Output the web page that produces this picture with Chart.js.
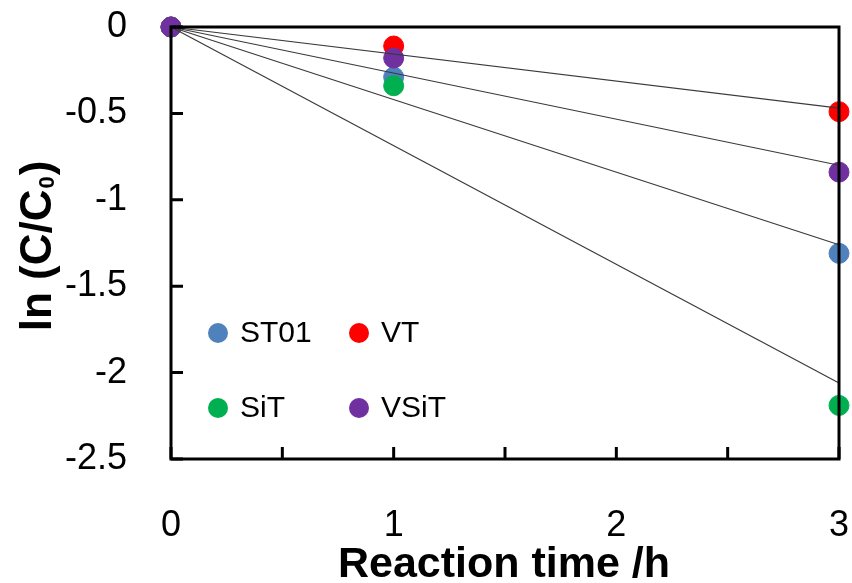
<!DOCTYPE html>
<html>
<head>
<meta charset="utf-8">
<script src="https://cdn.jsdelivr.net/npm/chart.js@4"></script>
<style>
  html, body { margin: 0; padding: 0; background: #fff; }
</style>
</head>
<body>
<canvas id="chart" width="852" height="583"></canvas>
<script>
// reaction times (h)
const times = [0, 1, 3];

const seriesNames = ['ST01', 'VT', 'SiT', 'VSiT'];
const seriesColors = ['#4F81BD', '#FF0000', '#00B050', '#7030A0'];

// ln(C/C0)
const st01 = [0, -0.29, -1.31];
const vt = [0, -0.11, -0.49];
const sit = [0, -0.34, -2.19];
const vsit = [0, -0.18, -0.84];

// trend lines (through origin), value at t = 3 h
const trendEnd = [-1.26, -0.47, -2.06, -0.80];

const yTicks = [0, -0.5, -1, -1.5, -2, -2.5];

const allSeries = [st01, vt, sit, vsit];
const fontFam = '"Liberation Sans", Arial, sans-serif';

const pointSets = allSeries.map((vals, i) => ({
    label: seriesNames[i],
    data: times.map((t, j) => ({ x: t, y: vals[j] })),
    backgroundColor: seriesColors[i],
    borderColor: seriesColors[i],
    pointRadius: 10,
    pointHoverRadius: 10,
    showLine: false,
    clip: false,
    order: 4 - i
}));

const trendSets = trendEnd.map((v, i) => ({
    label: seriesNames[i] + ' trend',
    type: 'line',
    data: [{ x: times[0], y: 0 }, { x: times[times.length - 1], y: v }],
    borderColor: '#3a3a3a',
    borderWidth: 1.2,
    pointRadius: 0,
    fill: false,
    clip: false,
    order: 0
}));

function noPad(scale) {
    scale.paddingTop = 0;
    scale.paddingBottom = 0;
    scale.paddingLeft = 0;
    scale.paddingRight = 0;
}

const framePlugin = {
    id: 'frame',
    afterDatasetsDraw(chart) {
        const { ctx, chartArea: a, scales } = chart;
        ctx.save();
        ctx.strokeStyle = '#000';
        ctx.lineWidth = 3;
        // inward tick marks
        ctx.beginPath();
        scales.x.ticks.forEach(t => {
            const px = scales.x.getPixelForValue(t.value);
            ctx.moveTo(px, a.bottom);
            ctx.lineTo(px, a.bottom - 12);
        });
        scales.y.ticks.forEach(t => {
            const py = scales.y.getPixelForValue(t.value);
            ctx.moveTo(a.left, py);
            ctx.lineTo(a.left + 12, py);
        });
        ctx.stroke();
        ctx.strokeRect(a.left, a.top, a.right - a.left, a.bottom - a.top);
        ctx.restore();
    },
    afterDraw(chart) {
        const { ctx, chartArea: a } = chart;
        ctx.save();
        // legend, 2 x 2 inside the plot
        ctx.font = '30px ' + fontFam;
        ctx.textBaseline = 'middle';
        ctx.textAlign = 'left';
        const colX = [a.left + 47, a.left + 188];
        const rowY = [a.top + 306, a.top + 381];
        seriesNames.forEach((name, i) => {
            const cx = colX[i % 2], cy = rowY[Math.floor(i / 2)];
            ctx.fillStyle = seriesColors[i];
            ctx.beginPath();
            ctx.arc(cx, cy, 10, 0, Math.PI * 2);
            ctx.fill();
            ctx.fillStyle = '#000';
            ctx.fillText(name, cx + 22, cy + 1);
        });

        // x axis title
        ctx.font = 'bold 43px ' + fontFam;
        ctx.textAlign = 'center';
        ctx.textBaseline = 'alphabetic';
        ctx.fillText('Reaction time /h', 504, 577);

        // y axis title with subscript 0
        ctx.translate(51, 246);
        ctx.rotate(-Math.PI / 2);
        const main = 'ln (C/C';
        const big = 'bold 44px ' + fontFam;
        const small = 'bold 22px ' + fontFam;
        ctx.font = big;
        const w1 = ctx.measureText(main).width;
        const w3 = ctx.measureText(')').width;
        ctx.font = small;
        const w2 = ctx.measureText('0').width + 2;
        let x = -(w1 + w2 + w3) / 2;
        ctx.textAlign = 'left';
        ctx.font = big;
        ctx.fillText(main, x, 0);
        x += w1;
        ctx.font = small;
        ctx.fillText('0', x + 1, 3);
        x += w2;
        ctx.font = big;
        ctx.fillText(')', x, 0);
        ctx.restore();
    }
};

new Chart(document.getElementById('chart'), {
    type: 'scatter',
    data: { datasets: [...trendSets, ...pointSets] },
    options: {
        responsive: false,
        devicePixelRatio: 1,
        animation: false,
        layout: { padding: { top: 27, right: 13, left: 0, bottom: 0 } },
        plugins: {
            legend: { display: false },
            tooltip: { enabled: false }
        },
        scales: {
            x: {
                type: 'linear',
                min: 0,
                max: 3,
                grid: { display: false, drawTicks: false },
                border: { display: false },
                ticks: {
                    stepSize: 0.5,
                    padding: 45,
                    maxRotation: 0,
                    autoSkip: false,
                    color: '#000',
                    font: { family: fontFam, size: 36 },
                    callback: v => Number.isInteger(v) ? String(v) : ''
                },
                afterFit(scale) { scale.height = 124; noPad(scale); }
            },
            y: {
                type: 'linear',
                min: yTicks[yTicks.length - 1],
                max: yTicks[0],
                grid: { display: false, drawTicks: false },
                border: { display: false },
                afterBuildTicks(scale) {
                    scale.ticks = yTicks.map(v => ({ value: v }));
                },
                ticks: {
                    padding: 44,
                    color: '#000',
                    font: { family: fontFam, size: 36 },
                    callback: v => String(v)
                },
                afterFit(scale) { scale.width = 171; noPad(scale); }
            }
        }
    },
    plugins: [framePlugin]
});
</script>
</body>
</html>
